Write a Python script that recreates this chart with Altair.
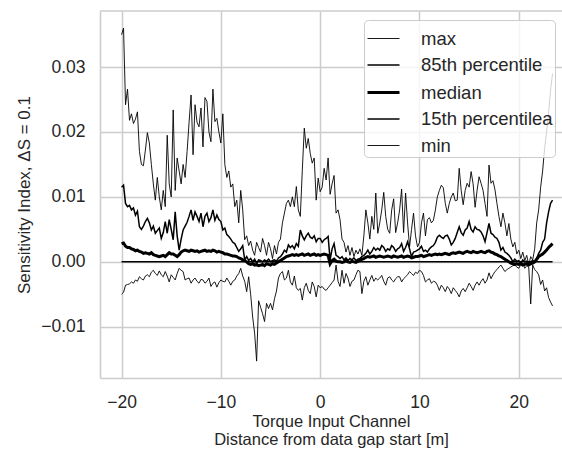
import altair as alt
import numpy as np
import pandas as pd

# x grid: distance from data gap start [m], step 0.2
x = np.round(np.arange(-20.0, 23.41, 0.2), 1)

max_vals = [
    0.0350, 0.0360, 0.0242, 0.0266, 0.0218, 0.0228, 0.0213, 0.0220, 0.0231, 0.0170,
    0.0150, 0.0148, 0.0172, 0.0199, 0.0183, 0.0150, 0.0120, 0.0095, 0.0130, 0.0100,
    0.0080, 0.0110, 0.0085, 0.0195, 0.0120, 0.0100, 0.0234, 0.0110, 0.0160, 0.0140,
    0.0120, 0.0150, 0.0130, 0.0170, 0.0215, 0.0257, 0.0165, 0.0242, 0.0215, 0.0208,
    0.0237, 0.0177, 0.0253, 0.0247, 0.0200, 0.0185, 0.0266, 0.0216, 0.0221, 0.0200,
    0.0183, 0.0228, 0.0150, 0.0130, 0.0140, 0.0115, 0.0120, 0.0085, 0.0095, 0.0060,
    0.0110, 0.0080, 0.0034, 0.0040, 0.0025, 0.0032, 0.0018, 0.0010, 0.0030, 0.0022,
    0.0015, 0.0036, 0.0025, 0.0010, 0.0030, 0.0020, 0.0005, 0.0025, 0.0012, 0.0030,
    0.0035, 0.0060, 0.0075, 0.0090, 0.0095, 0.0085, 0.0100, 0.0085, 0.0116, 0.0080,
    0.0070, 0.0141, 0.0206, 0.0175, 0.0190, 0.0167, 0.0152, 0.0160, 0.0095, 0.0129,
    0.0108, 0.0115, 0.0144, 0.0126, 0.0160, 0.0104, 0.0120, 0.0133, 0.0075, 0.0080,
    0.0065, 0.0035, 0.0030, 0.0015, 0.0025, 0.0010, 0.0022, 0.0008, 0.0018, 0.0012,
    0.0020, 0.0010, 0.0040, 0.0080, 0.0060, 0.0035, 0.0070, 0.0050, 0.0106, 0.0044,
    0.0060, 0.0080, 0.0107, 0.0070, 0.0050, 0.0044, 0.0080, 0.0097, 0.0045, 0.0060,
    0.0080, 0.0112, 0.0045, 0.0106, 0.0060, 0.0023, 0.0050, 0.0075, 0.0040, 0.0023,
    0.0030, 0.0060, 0.0075, 0.0040, 0.0065, 0.0068, 0.0060, 0.0064, 0.0080, 0.0100,
    0.0110, 0.0118, 0.0114, 0.0090, 0.0075, 0.0090, 0.0100, 0.0106, 0.0094, 0.0095,
    0.0144, 0.0110, 0.0088, 0.0110, 0.0121, 0.0115, 0.0139, 0.0120, 0.0084, 0.0110,
    0.0131, 0.0121, 0.0110, 0.0090, 0.0070, 0.0149, 0.0121, 0.0125, 0.0111, 0.0090,
    0.0070, 0.0054, 0.0075, 0.0060, 0.0040, 0.0059, 0.0035, 0.0023, 0.0030, 0.0012,
    0.0018, 0.0005, 0.0015, 0.0002, 0.0010, -0.0005, 0.0008, 0.0003, 0.0020, 0.0060,
    0.0080, 0.0115, 0.0140, 0.0175, 0.0200, 0.0230, 0.0265, 0.0290,
]

p85_vals = [
    0.0115, 0.0118, 0.0090, 0.0085, 0.0087, 0.0080, 0.0083, 0.0072, 0.0078, 0.0054,
    0.0050, 0.0055, 0.0062, 0.0067, 0.0060, 0.0049, 0.0055, 0.0044, 0.0048, 0.0052,
    0.0036, 0.0045, 0.0062, 0.0044, 0.0065, 0.0050, 0.0034, 0.0077, 0.0040, 0.0018,
    0.0035, 0.0049, 0.0055, 0.0061, 0.0070, 0.0080, 0.0064, 0.0077, 0.0070, 0.0062,
    0.0075, 0.0054, 0.0070, 0.0075, 0.0062, 0.0068, 0.0080, 0.0064, 0.0072, 0.0065,
    0.0062, 0.0049, 0.0052, 0.0042, 0.0039, 0.0035, 0.0030, 0.0028, 0.0022, 0.0016,
    0.0020, 0.0025, 0.0003, 0.0008, 0.0002, 0.0005, 0.0000, 0.0004, -0.0002, 0.0003,
    0.0002, 0.0000, 0.0003, 0.0001, 0.0004, 0.0000, 0.0002, 0.0003, 0.0001, 0.0006,
    0.0008, 0.0012, 0.0018, 0.0015, 0.0026, 0.0022, 0.0025, 0.0020, 0.0028, 0.0024,
    0.0049, 0.0040, 0.0034, 0.0040, 0.0044, 0.0038, 0.0036, 0.0040, 0.0031, 0.0036,
    0.0036, 0.0030, 0.0034, 0.0036, 0.0039, 0.0003, 0.0020, 0.0028, 0.0010, 0.0008,
    0.0005, 0.0008, 0.0003, 0.0006, 0.0002, 0.0005, 0.0003, 0.0006, 0.0002, 0.0004,
    0.0005, 0.0008, 0.0010, 0.0013, 0.0018, 0.0012, 0.0016, 0.0022, 0.0018, 0.0021,
    0.0018, 0.0025, 0.0022, 0.0016, 0.0020, 0.0018, 0.0025, 0.0022, 0.0016, 0.0020,
    0.0022, 0.0028, 0.0016, 0.0022, 0.0031, 0.0020, 0.0008, 0.0015, 0.0016, 0.0018,
    0.0020, 0.0024, 0.0016, 0.0018, 0.0015, 0.0020, 0.0023, 0.0025, 0.0030, 0.0038,
    0.0041, 0.0038, 0.0036, 0.0040, 0.0041, 0.0035, 0.0026, 0.0030, 0.0036, 0.0045,
    0.0054, 0.0045, 0.0041, 0.0049, 0.0052, 0.0062, 0.0050, 0.0046, 0.0054, 0.0050,
    0.0049, 0.0046, 0.0040, 0.0031, 0.0045, 0.0059, 0.0044, 0.0042, 0.0038, 0.0036,
    0.0030, 0.0018, 0.0022, 0.0015, 0.0013, 0.0010, 0.0006, 0.0000, 0.0004, 0.0001,
    0.0002, -0.0002, 0.0003, 0.0000, 0.0001, -0.0003, 0.0000, 0.0002, 0.0000, 0.0005,
    0.0013, 0.0018, 0.0030, 0.0035, 0.0060, 0.0077, 0.0090, 0.0095,
]

median_vals = [
    0.0028, 0.0029, 0.0024, 0.0022, 0.0022, 0.0020, 0.0019, 0.0017, 0.0018, 0.0016,
    0.0015, 0.0013, 0.0014, 0.0013, 0.0012, 0.0014, 0.0011, 0.0010, 0.0009, 0.0008,
    0.0009, 0.0010, 0.0008, 0.0011, 0.0014, 0.0012, 0.0012, 0.0010, 0.0008, 0.0011,
    0.0015, 0.0017, 0.0018, 0.0017, 0.0016, 0.0018, 0.0017, 0.0016, 0.0017, 0.0015,
    0.0016, 0.0017, 0.0018, 0.0016, 0.0017, 0.0016, 0.0018, 0.0017, 0.0015, 0.0016,
    0.0015, 0.0014, 0.0012, 0.0012, 0.0011, 0.0010, 0.0009, 0.0009, 0.0008, 0.0006,
    0.0005, 0.0003, 0.0002, 0.0000, -0.0003, -0.0004, -0.0003, -0.0005, -0.0004, -0.0006,
    -0.0005, -0.0004, -0.0006, -0.0003, -0.0004, -0.0005, -0.0003, -0.0004, -0.0002, 0.0000,
    0.0002, 0.0004, 0.0006, 0.0008, 0.0009, 0.0010, 0.0011, 0.0010, 0.0011, 0.0010,
    0.0011, 0.0012, 0.0010, 0.0011, 0.0012, 0.0010, 0.0011, 0.0012, 0.0010, 0.0011,
    0.0010, 0.0011, 0.0012, 0.0011, 0.0010, -0.0003, 0.0002, 0.0004, 0.0001, 0.0000,
    0.0000, -0.0001, 0.0000, 0.0002, 0.0000, -0.0001, 0.0001, 0.0000, -0.0001, 0.0001,
    0.0002, 0.0004, 0.0005, 0.0007, 0.0008, 0.0007, 0.0008, 0.0009, 0.0007, 0.0008,
    0.0009, 0.0008, 0.0007, 0.0008, 0.0009, 0.0008, 0.0007, 0.0009, 0.0008, 0.0007,
    0.0008, 0.0009, 0.0007, 0.0008, 0.0009, 0.0008, 0.0006, 0.0007, 0.0008, 0.0008,
    0.0009, 0.0010, 0.0008, 0.0009, 0.0010, 0.0011, 0.0010, 0.0011, 0.0012, 0.0011,
    0.0012, 0.0011, 0.0012, 0.0013, 0.0012, 0.0011, 0.0013, 0.0014, 0.0013, 0.0014,
    0.0015, 0.0014, 0.0013, 0.0015, 0.0016, 0.0015, 0.0014, 0.0016, 0.0015, 0.0014,
    0.0015, 0.0016, 0.0015, 0.0014, 0.0016, 0.0017, 0.0015, 0.0014, 0.0012, 0.0011,
    0.0009, 0.0008, 0.0006, 0.0004, 0.0002, 0.0000, -0.0002, -0.0003, -0.0004, -0.0003,
    -0.0004, -0.0003, -0.0005, -0.0004, -0.0003, -0.0005, -0.0003, -0.0002, 0.0000, 0.0004,
    0.0008, 0.0010, 0.0012, 0.0015, 0.0018, 0.0022, 0.0025, 0.0028,
]

p15_vals = [
    0.0, 0.0, 0.0, 0.0, 0.0, 0.0, 0.0, 0.0, 0.0, 0.0,
    0.0, 0.0, 0.0, 0.0, 0.0, 0.0, 0.0, 0.0, 0.0, 0.0,
    0.0, 0.0, 0.0, 0.0, 0.0, 0.0, 0.0, 0.0, 0.0, 0.0,
    0.0, 0.0, 0.0, 0.0, 0.0, 0.0, 0.0, 0.0, 0.0, 0.0,
    0.0, 0.0, 0.0, 0.0, 0.0, 0.0, 0.0, 0.0, 0.0, 0.0,
    0.0, 0.0, 0.0, 0.0, 0.0, 0.0, 0.0, 0.0, 0.0, 0.0,
    0.0, 0.0, 0.0, 0.0, 0.0, 0.0, 0.0, 0.0, 0.0, 0.0,
    0.0, 0.0, 0.0, 0.0, 0.0, 0.0, 0.0, 0.0, 0.0, 0.0,
    0.0, 0.0, 0.0, 0.0, 0.0, 0.0, 0.0, 0.0, 0.0, 0.0,
    0.0, 0.0, 0.0, 0.0, 0.0, 0.0, 0.0, 0.0, 0.0, 0.0,
    0.0, 0.0, 0.0, 0.0, 0.0, 0.0, 0.0, 0.0, 0.0, 0.0,
    0.0, 0.0, 0.0, 0.0, 0.0, 0.0, 0.0, 0.0, 0.0, 0.0,
    0.0, 0.0, 0.0, 0.0, 0.0, 0.0, 0.0, 0.0, 0.0, 0.0,
    0.0, 0.0, 0.0, 0.0, 0.0, 0.0, 0.0, 0.0, 0.0, 0.0,
    0.0, 0.0, 0.0, 0.0, 0.0, 0.0, 0.0, 0.0, 0.0, 0.0,
    0.0, 0.0, 0.0, 0.0, 0.0, 0.0, 0.0, 0.0, 0.0, 0.0,
    0.0, 0.0, 0.0, 0.0, 0.0, 0.0, 0.0, 0.0, 0.0, 0.0,
    0.0, 0.0, 0.0, 0.0, 0.0, 0.0, 0.0, 0.0, 0.0, 0.0,
    0.0, 0.0, 0.0, 0.0, 0.0, 0.0, 0.0, 0.0, 0.0, 0.0,
    0.0, 0.0, 0.0, 0.0, 0.0, 0.0, 0.0, 0.0, 0.0, 0.0,
    0.0, 0.0, 0.0, 0.0, 0.0, 0.0, 0.0, 0.0, 0.0, 0.0,
    0.0, 0.0, 0.0, 0.0, 0.0, 0.0, 0.0, 0.0,
]

min_vals = [
    -0.0050, -0.0047, -0.0036, -0.0035, -0.0034, -0.0031, -0.0033, -0.0028, -0.0030, -0.0023,
    -0.0026, -0.0028, -0.0022, -0.0020, -0.0023, -0.0016, -0.0013, -0.0018, -0.0021, -0.0014,
    -0.0020, -0.0023, -0.0015, -0.0022, -0.0031, -0.0020, -0.0024, -0.0028, -0.0018, -0.0010,
    -0.0013, -0.0015, -0.0028, -0.0026, -0.0025, -0.0033, -0.0028, -0.0025, -0.0030, -0.0033,
    -0.0027, -0.0028, -0.0033, -0.0030, -0.0025, -0.0038, -0.0033, -0.0031, -0.0039, -0.0032,
    -0.0028, -0.0030, -0.0031, -0.0025, -0.0030, -0.0036, -0.0030, -0.0028, -0.0022, -0.0018,
    -0.0010, -0.0022, -0.0030, -0.0046, -0.0023, -0.0050, -0.0085, -0.0110, -0.0153, -0.0060,
    -0.0070, -0.0080, -0.0092, -0.0064, -0.0072, -0.0064, -0.0074, -0.0057, -0.0045, -0.0025,
    -0.0018, -0.0015, -0.0028, -0.0025, -0.0013, -0.0031, -0.0036, -0.0022, -0.0040, -0.0044,
    -0.0041, -0.0059, -0.0040, -0.0033, -0.0044, -0.0049, -0.0031, -0.0038, -0.0054, -0.0036,
    -0.0040, -0.0038, -0.0042, -0.0044, -0.0040, -0.0036, -0.0032, -0.0028, -0.0005, -0.0030,
    -0.0038, -0.0013, -0.0033, -0.0018, -0.0025, -0.0038, -0.0030, -0.0028, -0.0020, -0.0013,
    -0.0015, -0.0049, -0.0030, -0.0023, -0.0036, -0.0028, -0.0021, -0.0030, -0.0025, -0.0028,
    -0.0025, -0.0021, -0.0030, -0.0036, -0.0025, -0.0023, -0.0028, -0.0031, -0.0026, -0.0023,
    -0.0023, -0.0031, -0.0026, -0.0023, -0.0020, -0.0015, -0.0018, -0.0021, -0.0016, -0.0018,
    -0.0013, -0.0015, -0.0021, -0.0031, -0.0028, -0.0026, -0.0033, -0.0030, -0.0031, -0.0036,
    -0.0044, -0.0036, -0.0040, -0.0046, -0.0038, -0.0042, -0.0049, -0.0040, -0.0044, -0.0048,
    -0.0054, -0.0045, -0.0041, -0.0046, -0.0040, -0.0033, -0.0038, -0.0044, -0.0036, -0.0031,
    -0.0036, -0.0030, -0.0026, -0.0033, -0.0028, -0.0017, -0.0026, -0.0020, -0.0015, -0.0012,
    -0.0008, -0.0005, -0.0010, -0.0015, -0.0012, -0.0010, -0.0008, -0.0006, -0.0005, -0.0008,
    -0.0010, -0.0004, -0.0002, -0.0010, -0.0006, -0.0008, -0.0065, -0.0005, -0.0012, -0.0015,
    -0.0020, -0.0035, -0.0028, -0.0045, -0.0040, -0.0055, -0.0062, -0.0068,
]

series_names = ["max", "85th percentile", "median", "15th percentilea", "min"]
series_values = [max_vals, p85_vals, median_vals, p15_vals, min_vals]
series_widths = [0.9, 1.5, 3.0, 1.5, 0.9]

x_ticks = [-20, -10, 0, 10, 20]
y_ticks = [-0.01, 0.0, 0.01, 0.02, 0.03]

df = pd.concat(
    [pd.DataFrame({"x": x, "y": vals, "series": name})
     for name, vals in zip(series_names, series_values)],
    ignore_index=True,
)

FONT = "Liberation Sans"
TEXT = "#262626"
GRID = "#cccccc"
W, H = 462, 367

legend = alt.Legend(
    title=None, orient="none", legendX=264, legendY=9, direction="vertical",
    symbolType="stroke", symbolSize=1024, labelFont=FONT, labelFontSize=18.5,
    labelColor=TEXT, labelOffset=20, rowPadding=0, padding=2,
    fillColor="rgba(255,255,255,0.8)", strokeColor=GRID, cornerRadius=4,
)

lines = alt.Chart(df).mark_line(clip=True).encode(
    x=alt.X("x:Q",
            scale=alt.Scale(domain=[-22.17, 24.35], nice=False, zero=False),
            axis=alt.Axis(values=x_ticks, format="d",
                          title=["Torque Input Channel", "Distance from data gap start [m]"],
                          labelPadding=15, titleY=35, titleLineHeight=18.5,
                          titleFontSize=16.5)),
    y=alt.Y("y:Q",
            scale=alt.Scale(domain=[-0.0179, 0.03864], nice=False, zero=False),
            axis=alt.Axis(values=y_ticks, format=".2f",
                          title="Sensitivity Index, ΔS = 0.1",
                          labelPadding=15, titlePadding=7)),
    color=alt.Color("series:N", scale=alt.Scale(domain=series_names, range=["black"] * 5),
                    legend=legend),
    strokeWidth=alt.StrokeWidth("series:N",
                                scale=alt.Scale(type="ordinal", domain=series_names,
                                                range=series_widths),
                                legend=legend),
)

top_spine = alt.Chart(pd.DataFrame({"k": [0]})).mark_rule(
    color=GRID, strokeWidth=1.6
).encode(y=alt.value(0), x=alt.value(0), x2=alt.value(W))

chart = alt.layer(top_spine, lines).properties(
    width=W, height=H,
    autosize=alt.AutoSizeParams(type="none"),
    padding={"left": 100, "top": 11, "right": 0, "bottom": 79},
    background="white",
).configure_view(stroke=None).configure_axis(
    grid=True, gridColor=GRID, gridWidth=1.5,
    domainColor=GRID, domainWidth=1.6, tickSize=0,
    labelFont=FONT, labelFontSize=17.5, labelColor=TEXT,
    titleFont=FONT, titleFontSize=17, titleColor=TEXT, titleFontWeight="normal",
)

chart.save("out.html", embed_options={"renderer": "svg", "actions": False})
